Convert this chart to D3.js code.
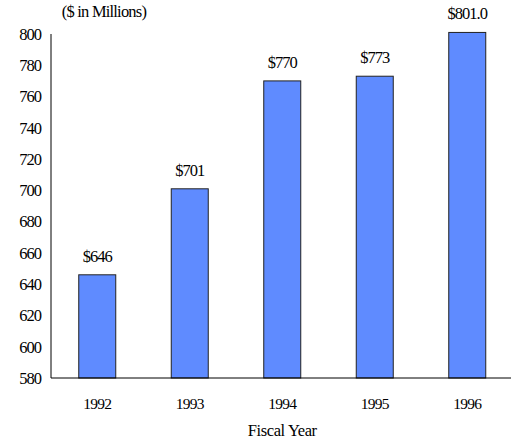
<!DOCTYPE html>
<html>
<head>
<meta charset="utf-8">
<script src="https://cdn.jsdelivr.net/npm/d3@7"></script>
<style>
  html, body { margin: 0; padding: 0; background: #fff; }
  #chart text { font-family: "Times New Roman", "Liberation Serif", Times, "DejaVu Serif", serif !important; fill: #000; }
</style>
</head>
<body>
<svg id="chart" width="511" height="442"></svg>
<script>
// Revenue by fiscal year ($ in millions)
const years = ["1992", "1993", "1994", "1995", "1996"];
const revenue = [646, 701, 770, 773, 801.0];
const valueLabels = ["$646", "$701", "$770", "$773", "$801.0"];
const yTicks = [580, 600, 620, 640, 660, 680, 700, 720, 740, 760, 780, 800];

const svg = d3.select("#chart");
const plot = { left: 51, right: 513.5, top: 34, bottom: 378 };

const x = d3.scaleBand()
  .domain(years)
  .range([plot.left, plot.right])
  .paddingInner(0.6)
  .paddingOuter(0.3);

const y = d3.scaleLinear()
  .domain([580, 800])
  .range([plot.bottom, plot.top]);

// Bars
svg.append("g")
  .selectAll("rect")
  .data(years)
  .join("rect")
  .attr("x", d => x(d))
  .attr("y", (d, i) => y(revenue[i]))
  .attr("width", x.bandwidth())
  .attr("height", (d, i) => plot.bottom - y(revenue[i]))
  .attr("fill", "#5F8BFF")
  .attr("stroke", "#222")
  .attr("stroke-width", 1);

// Value labels above bars
svg.append("g")
  .selectAll("text")
  .data(years)
  .join("text")
  .attr("x", d => x(d) + x.bandwidth() / 2)
  .attr("y", (d, i) => y(revenue[i]) - 13)
  .attr("text-anchor", "middle")
  .attr("font-size", 16.5)
  .attr("letter-spacing", -1)
  .text((d, i) => valueLabels[i]);

// Y axis
const yAxis = svg.append("g")
  .attr("transform", `translate(${plot.left},0)`)
  .call(d3.axisLeft(y).tickValues(yTicks).tickSize(0).tickPadding(10).tickFormat(d3.format("d")));
yAxis.attr("font-family", null);
yAxis.select(".domain").attr("stroke", "#000").attr("d", `M0,${plot.top}V${plot.bottom}`);
yAxis.selectAll("text")
  .attr("font-size", 16.5)
  .attr("letter-spacing", -1);

// X axis
const xAxis = svg.append("g")
  .attr("transform", `translate(0,${plot.bottom})`)
  .call(d3.axisBottom(x).tickSize(0).tickPadding(20));
xAxis.attr("font-family", null);
xAxis.select(".domain").attr("stroke", "#000").attr("d", `M${plot.left},0H511`);
xAxis.selectAll("text")
  .attr("font-size", 15.5)
  .attr("letter-spacing", -0.7);

// Titles
svg.append("text")
  .attr("x", 104)
  .attr("y", 17)
  .attr("text-anchor", "middle")
  .attr("font-size", 16.5)
  .attr("letter-spacing", -0.8)
  .text("($ in Millions)");

svg.append("text")
  .attr("x", (plot.left + plot.right) / 2)
  .attr("y", 436)
  .attr("text-anchor", "middle")
  .attr("font-size", 16.5)
  .attr("letter-spacing", -0.4)
  .text("Fiscal Year");
</script>
</body>
</html>
